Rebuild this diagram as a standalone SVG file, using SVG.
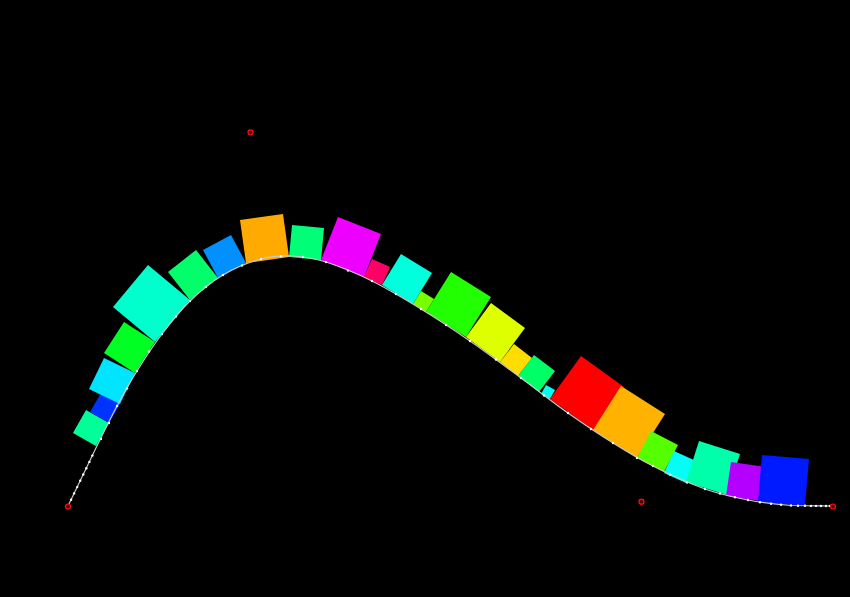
<svg xmlns="http://www.w3.org/2000/svg" width="850" height="597" viewBox="0 0 850 597">
<style>
.sq{stroke:none}
.curve{fill:none;stroke:#c8c8c8;stroke-width:1.2}
.dot{fill:#ffffff}
.cp{fill:#550000;stroke:#ff1010;stroke-width:1.2}
</style>
<rect width="850" height="597" fill="#000"/>
<g id="squares">
<g id="sq1"><polygon class="sq" fill="#00FF99" points="96,446 109,423 86,410 73,433"/></g>
<g id="sq2"><polygon class="sq" fill="#0033FF" points="109,423 120,404 101,393 90,412"/></g>
<g id="sq3"><polygon class="sq" fill="#00E5FF" points="120,404 135,373 104,358 89,389"/></g>
<g id="sq4"><polygon class="sq" fill="#00FF22" points="135,373 155,342 124,322 104,353"/></g>
<g id="sq5"><polygon class="sq" fill="#00FFCC" points="155,342 190,300 148,265 113,307"/></g>
<g id="sq6"><polygon class="sq" fill="#00FF6A" points="190,300 218,278 196,250 168,272"/></g>
<g id="sq7"><polygon class="sq" fill="#0090FF" points="218,278 246,263 231,235 203,250"/></g>
<g id="sq8"><polygon class="sq" fill="#FFAA00" points="246,263 289,257 283,214 240,220"/></g>
<g id="sq9"><polygon class="sq" fill="#00FF77" points="289,257 321,260 324,228 292,225"/></g>
<g id="sq10"><polygon class="sq" fill="#EE00FF" points="321,260 364,277 381,234 338,217"/></g>
<g id="sq11"><polygon class="sq" fill="#FF0066" points="364,277 382,285 390,267 372,259"/></g>
<g id="sq12"><polygon class="sq" fill="#00FFDD" points="382,285 413,304 432,273 401,254"/></g>
<g id="sq13"><polygon class="sq" fill="#77FF00" points="413,304 426,312 434,299 421,291"/></g>
<g id="sq14"><polygon class="sq" fill="#22FF00" points="426,312 466,337 491,297 451,272"/></g>
<g id="sq15"><polygon class="sq" fill="#DDFF00" points="466,337 500,362 525,328 491,303"/></g>
<g id="sq16"><polygon class="sq" fill="#FFDD00" points="500,362 518,376 532,358 514,344"/></g>
<g id="sq17"><polygon class="sq" fill="#00FF66" points="518,376 539,392 555,371 534,355"/></g>
<g id="sq18"><polygon class="sq" fill="#00FFEE" points="541,394 550,399 555,390 546,385"/></g>
<g id="sq19"><polygon class="sq" fill="#FF0000" points="550,399 593,430 624,387 581,356"/></g>
<g id="sq20"><polygon class="sq" fill="#FFB300" points="593,430 637,458 665,414 621,386"/></g>
<g id="sq21"><polygon class="sq" fill="#55FF00" points="637,458 664,472 678,445 651,431"/></g>
<g id="sq22"><polygon class="sq" fill="#00FFF5" points="664,473 686,483 696,461 674,451"/></g>
<g id="sq23"><polygon class="sq" fill="#00FFAA" points="686,482 727,495 740,454 699,441"/></g>
<g id="sq24"><polygon class="sq" fill="#B300FF" points="726,496 760,501 765,467 731,462"/></g>
<g id="sq25"><polygon class="sq" fill="#001AFF" points="758,502 805,506 809,459 762,455"/></g>
</g>
<g id="connectors">
<path class="curve" d="M68,506 C77,487.33 86.83,466.67 95,450 C103.17,433.33 110,419.17 117,406 C124,392.83 129.5,383 137,371 C144.5,359 153.17,345.67 162,334 C170.83,322.33 179.83,310.83 190,301 C200.17,291.17 211.17,282 223,275 C234.83,268 249.5,262.17 261,259 C272.5,255.830 281.17,255.5 292,256 C302.83,256.5 312.67,257.83 326,262 C339.33,266.17 356.17,273.17 372,281 C387.83,288.83 404.67,299 421,309 C437.33,319 453.33,329.5 470,341 C486.67,352.5 504.67,366 521,378 C537.33,390 552.67,402.17 568,413 C583.33,423.83 598.83,434.17 613,443 C627.17,451.83 637.67,458.33 653,466 C668.33,473.67 689.17,483.33 705,489 C720.83,494.67 733.67,497.25 748,500 C762.33,502.75 776.83,504.5 791,505.5 C805.17,505.67 819,505.83 833,506"/>
<g id="dots">
<circle class="dot" cx="71.1" cy="499.7" r="1.2"/><circle class="dot" cx="74.1" cy="493.4" r="1.2"/><circle class="dot" cx="77.2" cy="487.1" r="1.2"/><circle class="dot" cx="80.2" cy="480.8" r="1.2"/><circle class="dot" cx="83.3" cy="474.5" r="1.2"/><circle class="dot" cx="86.3" cy="468.2" r="1.2"/><circle class="dot" cx="89.4" cy="461.9" r="1.2"/><circle class="dot" cx="92.4" cy="455.6" r="1.2"/>
<circle class="dot" cx="101" cy="439" r="1.2"/><circle class="dot" cx="109" cy="423" r="1.2"/><circle class="dot" cx="117" cy="406" r="1.2"/><circle class="dot" cx="127" cy="388.5" r="1.2"/><circle class="dot" cx="137" cy="371" r="1.2"/><circle class="dot" cx="149" cy="351.5" r="1.2"/><circle class="dot" cx="162" cy="334" r="1.2"/><circle class="dot" cx="176" cy="316.5" r="1.2"/><circle class="dot" cx="190" cy="301" r="1.2"/><circle class="dot" cx="206" cy="287" r="1.2"/><circle class="dot" cx="223" cy="275" r="1.2"/><circle class="dot" cx="242" cy="265.5" r="1.2"/><circle class="dot" cx="261" cy="259" r="1.2"/><circle class="dot" cx="281" cy="256.2" r="1.2"/><circle class="dot" cx="303" cy="257" r="1.2"/><circle class="dot" cx="326" cy="262" r="1.2"/><circle class="dot" cx="348" cy="270.5" r="1.2"/><circle class="dot" cx="372" cy="281" r="1.2"/><circle class="dot" cx="396" cy="294" r="1.2"/><circle class="dot" cx="421" cy="309" r="1.2"/><circle class="dot" cx="446" cy="325" r="1.2"/><circle class="dot" cx="470" cy="341" r="1.2"/><circle class="dot" cx="496" cy="359.5" r="1.2"/><circle class="dot" cx="521" cy="378" r="1.2"/><circle class="dot" cx="544" cy="395.5" r="1.2"/><circle class="dot" cx="568" cy="413" r="1.2"/><circle class="dot" cx="591" cy="429" r="1.2"/><circle class="dot" cx="613" cy="443" r="1.2"/><circle class="dot" cx="637" cy="458" r="1.2"/><circle class="dot" cx="653" cy="466" r="1.2"/><circle class="dot" cx="670" cy="474.5" r="1.2"/><circle class="dot" cx="687" cy="482.5" r="1.2"/><circle class="dot" cx="705" cy="489" r="1.2"/><circle class="dot" cx="720" cy="493.5" r="1.2"/><circle class="dot" cx="735" cy="497.3" r="1.2"/><circle class="dot" cx="748" cy="500" r="1.2"/><circle class="dot" cx="760" cy="502.3" r="1.2"/><circle class="dot" cx="771" cy="503.8" r="1.2"/><circle class="dot" cx="781" cy="504.8" r="1.2"/><circle class="dot" cx="791" cy="505.5" r="1.2"/><circle class="dot" cx="798" cy="505.7" r="1.2"/><circle class="dot" cx="805" cy="505.8" r="1.2"/><circle class="dot" cx="811" cy="505.9" r="1.2"/><circle class="dot" cx="816" cy="505.9" r="1.2"/><circle class="dot" cx="821" cy="506" r="1.2"/><circle class="dot" cx="826" cy="506" r="1.2"/><circle class="dot" cx="830" cy="506" r="1.2"/>
</g>
</g>
<g id="control-points">
<circle class="cp" cx="68" cy="506.5" r="2.5"/>
<circle class="cp" cx="250.5" cy="132.3" r="2.5"/>
<circle class="cp" cx="641.5" cy="501.7" r="2.5"/>
<circle class="cp" cx="833" cy="506.5" r="2.5"/>
</g>
</svg>
